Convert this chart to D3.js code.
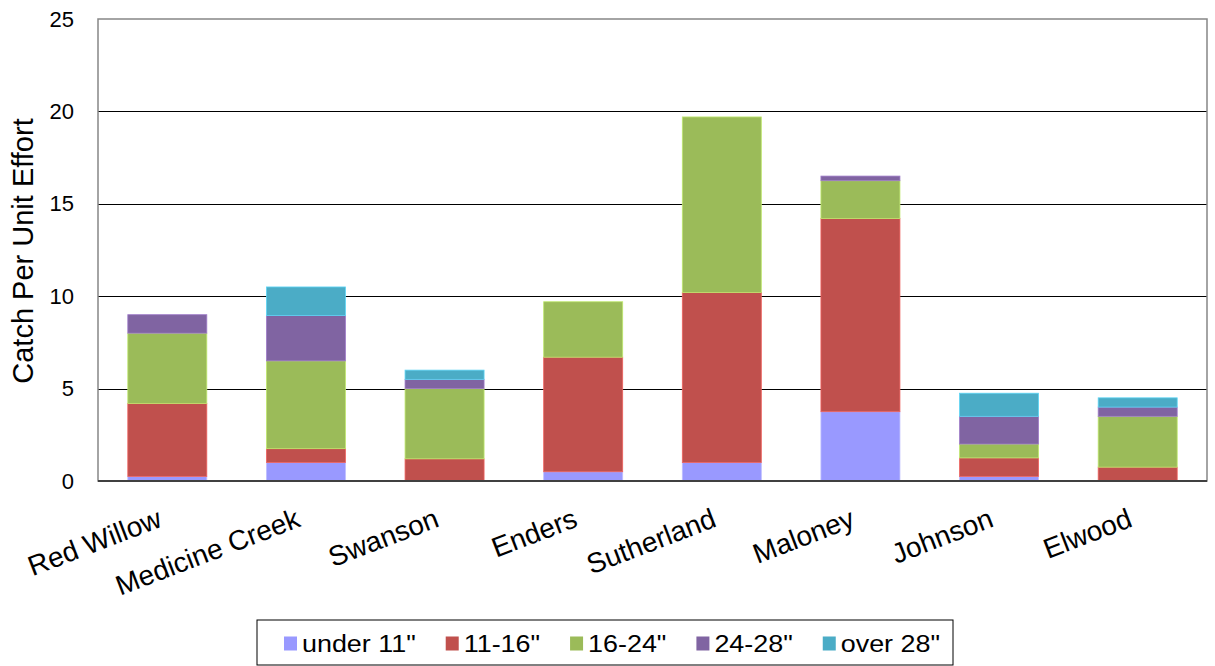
<!DOCTYPE html>
<html><head><meta charset="utf-8">
<script src="https://cdn.jsdelivr.net/npm/d3@7"></script>
<style>body{margin:0;background:#fff}svg{display:block;font-family:"Liberation Sans",Arial,sans-serif}</style>
</head><body><svg id="c" width="1215" height="666"></svg>
<script>
const categories = ["Red Willow","Medicine Creek","Swanson","Enders","Sutherland","Maloney","Johnson","Elwood"];
const seriesNames = ["under 11\"","11-16\"","16-24\"","24-28\"","over 28\""];
const under11 = [0.25, 1.0, 0, 0.5, 1.0, 3.75, 0.25, 0];
const s11_16  = [3.95, 0.75, 1.2, 6.2, 9.2, 10.45, 1.0, 0.75];
const s16_24  = [3.8, 4.75, 3.8, 3.0, 9.5, 2.05, 0.75, 2.75];
const s24_28  = [1.0, 2.45, 0.5, 0, 0, 0.25, 1.5, 0.5];
const over28  = [0, 1.55, 0.5, 0, 0, 0, 1.25, 0.5];
const colors = ["#9999FF","#C0504D","#9BBB59","#8064A2","#4BACC6"];
const yTicks = [0,5,10,15,20,25];
const yTitle = "Catch Per Unit Effort";

const svg = d3.select("#c");
const L=98, R=1207, T=19, B=481;
const x = d3.scaleBand().domain(categories).range([L,R]).paddingInner(0.43).paddingOuter(0.215);
const y = d3.scaleLinear().domain([0,25]).range([B,T]);

const rows = categories.map((c,i)=>{
  const o={cat:c};
  [under11,s11_16,s16_24,s24_28,over28].forEach((arr,k)=>o[seriesNames[k]]=arr[i]);
  return o;
});
const stack = d3.stack().keys(seriesNames)(rows);

// gridlines
svg.append("g").selectAll("line").data(yTicks.filter(d=>d>0&&d<25)).join("line")
  .attr("x1",L).attr("x2",R)
  .attr("y1",d=>Math.round(y(d))+0.5).attr("y2",d=>Math.round(y(d))+0.5)
  .attr("stroke","#000").attr("stroke-width",1);

// bars
svg.append("g").selectAll("g").data(stack).join("g")
  .attr("fill",(d,i)=>colors[i])
  .selectAll("rect").data(d=>d.filter(s=>s[1]-s[0]>0)).join("rect")
  .attr("x",d=>x(d.data.cat)).attr("width",x.bandwidth())
  .attr("y",d=>y(d[1])).attr("height",d=>y(d[0])-y(d[1]))
  .attr("stroke",function(){return d3.color(d3.select(this.parentNode).attr("fill")).brighter(0.6)})
  .attr("stroke-width",0.8);

// frame
svg.append("rect").attr("x",L).attr("y",T).attr("width",R-L).attr("height",B-T)
  .attr("fill","none").attr("stroke","#868686").attr("stroke-width",1.5);
svg.append("line").attr("x1",L).attr("x2",R).attr("y1",B).attr("y2",B)
  .attr("stroke","#404040").attr("stroke-width",2);

// y axis labels
const yAxis = d3.axisLeft(y).tickValues(yTicks).tickSize(0).tickPadding(24);
const ga = svg.append("g").attr("transform",`translate(${L},0)`).call(yAxis);
ga.select(".domain").remove();
ga.selectAll("text").attr("font-size",22).attr("fill","#000").attr("font-family","Liberation Sans, Arial, sans-serif");

svg.append("text").attr("transform","translate(33,251) rotate(-90)")
  .attr("text-anchor","middle").attr("font-size",29).attr("fill","#000").text(yTitle);

// x labels
svg.append("g").selectAll("text").data(categories).join("text")
  .attr("transform",d=>`translate(${x(d)+x.bandwidth()/2-4},526) rotate(-21)`)
  .attr("text-anchor","end").attr("font-size",28).attr("fill","#000").text(d=>d);

// legend
const lg = svg.append("g");
lg.append("rect").attr("x",257).attr("y",620).attr("width",696).attr("height",45)
  .attr("fill","#fff").attr("stroke","#000").attr("stroke-width",1);
const items = lg.selectAll("g").data(seriesNames).join("g");
const sx = 1.17;
items.append("rect").attr("width",13).attr("height",14).attr("y",636.5).attr("fill",(d,i)=>colors[i]);
items.append("text").attr("transform",`translate(18,651.5) scale(${sx},1)`)
  .attr("font-size",23).attr("fill","#000").text(d=>d);
let cx = 284;
items.each(function(){
  const g=d3.select(this);
  g.attr("transform",`translate(${cx},0)`);
  const w = g.select("text").node().getComputedTextLength()*sx;
  cx += 18 + w + 30;
});
</script></body></html>
